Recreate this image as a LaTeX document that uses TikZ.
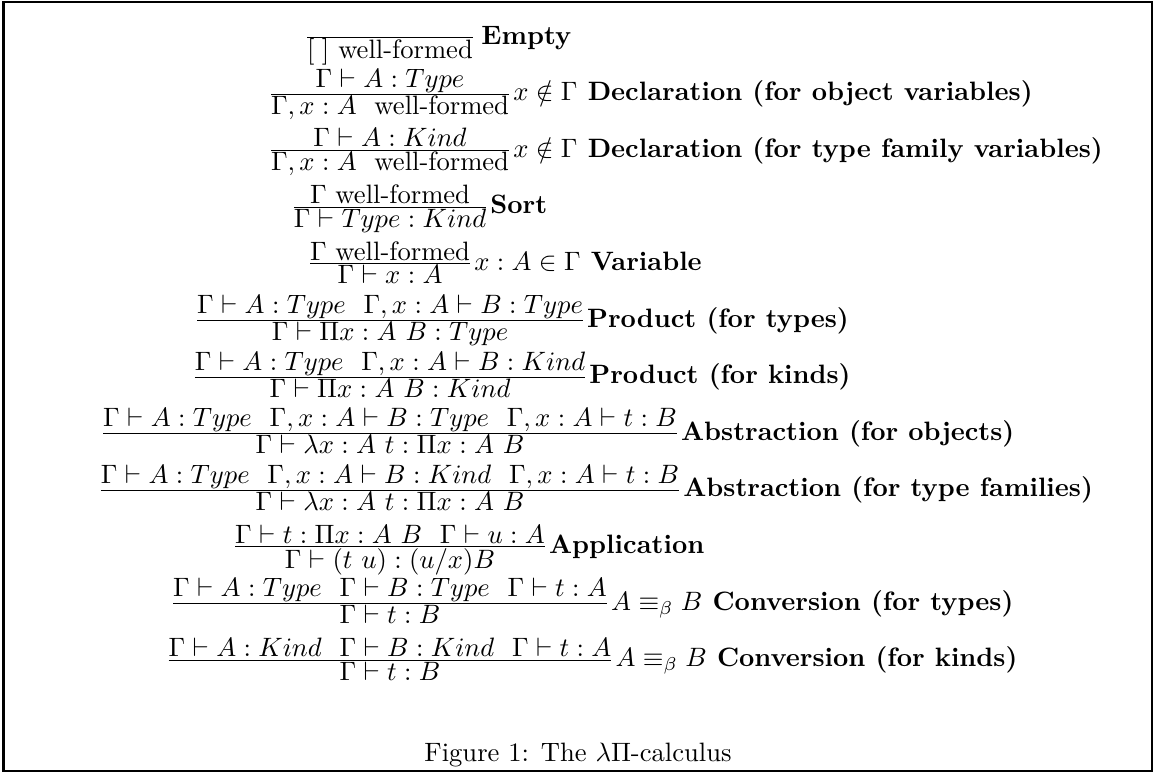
\documentclass[tikz,border=0pt]{standalone}
\usepackage{amsmath}
\usetikzlibrary{positioning}
\newcommand{\infrule}[2]{\frac{\displaystyle #1}{\displaystyle #2}}

\begin{document}
\begin{tikzpicture}[x=0.376pt, y=-0.376pt,
  rulebox/.style={inner sep=0pt, anchor=base},
  rulename/.style={inner sep=0pt, anchor=base west, font=\bfseries}]

  % Fix the picture size
  \useasboundingbox (0,0) rectangle (1156,774);

  % Draw frame
  \draw[line width=1pt] (3.5,2) rectangle (1152,771);

  % Context rules
  \node[rulebox] (empty) at (390,44.1) {$\infrule{}{[\;]\ \mbox{well-formed}}$};
  \node[rulename] (empty-name) at (empty.base east) {\,Empty};

  \node[rulebox] (declobj) at (390,100.7) {$\infrule{\Gamma \vdash A : Type}{\Gamma, x : A\ \ \mbox{well-formed}}$};
  \node[rulename] (declobj-name) at (declobj.base east) {$x \notin \Gamma$ Declaration (for object variables)};

  \node[rulebox] (decltyp) at (390,157.3) {$\infrule{\Gamma \vdash A : Kind}{\Gamma, x : A\ \ \mbox{well-formed}}$};
  \node[rulename] (decltyp-name) at (decltyp.base east) {$x \notin \Gamma$ Declaration (for type family variables)};

  % Sort and variable
  \node[rulebox] (sort) at (390,213.9) {$\infrule{\Gamma\ \mbox{well-formed}}{\Gamma \vdash Type : Kind}$};
  \node[rulename] (sort-name) at (sort.base east) {Sort};

  \node[rulebox] (var) at (390,270.5) {$\infrule{\Gamma\ \mbox{well-formed}}{\Gamma \vdash x : A}$};
  \node[rulename] (var-name) at (var.base east) {$x : A \in \Gamma$ Variable};

  % Products
  \node[rulebox] (prodtyp) at (390,327.1) {$\infrule{\Gamma \vdash A : Type\ \ \Gamma, x : A \vdash B : Type}{\Gamma \vdash \Pi x : A\ B : Type}$};
  \node[rulename] (prodtyp-name) at (prodtyp.base east) {Product (for types)};

  \node[rulebox] (prodknd) at (390,383.7) {$\infrule{\Gamma \vdash A : Type\ \ \Gamma, x : A \vdash B : Kind}{\Gamma \vdash \Pi x : A\ B : Kind}$};
  \node[rulename] (prodknd-name) at (prodknd.base east) {Product (for kinds)};

  % Abstractions
  \node[rulebox] (absobj) at (390,440.3) {$\infrule{\Gamma \vdash A : Type\ \ \Gamma, x : A \vdash B : Type\ \ \Gamma, x : A \vdash t : B}{\Gamma \vdash \lambda x : A\ t : \Pi x : A\ B}$};
  \node[rulename] (absobj-name) at (absobj.base east) {Abstraction (for objects)};

  \node[rulebox] (abstyp) at (390,496.9) {$\infrule{\Gamma \vdash A : Type\ \ \Gamma, x : A \vdash B : Kind\ \ \Gamma, x : A \vdash t : B}{\Gamma \vdash \lambda x : A\ t : \Pi x : A\ B}$};
  \node[rulename] (abstyp-name) at (abstyp.base east) {Abstraction (for type families)};

  % Application
  \node[rulebox] (app) at (390,553.5) {$\infrule{\Gamma \vdash t : \Pi x : A\ B\ \ \Gamma \vdash u : A}{\Gamma \vdash (t\ u) : (u/x)B}$};
  \node[rulename] (app-name) at (app.base east) {Application};

  % Conversions
  \node[rulebox] (convtyp) at (390,610.1) {$\infrule{\Gamma \vdash A : Type\ \ \Gamma \vdash B : Type\ \ \Gamma \vdash t : A}{\Gamma \vdash t : B}$};
  \node[rulename] (convtyp-name) at (convtyp.base east) {$A \equiv_\beta B$ Conversion (for types)};

  \node[rulebox] (convknd) at (390,666.7) {$\infrule{\Gamma \vdash A : Kind\ \ \Gamma \vdash B : Kind\ \ \Gamma \vdash t : A}{\Gamma \vdash t : B}$};
  \node[rulename] (convknd-name) at (convknd.base east) {$A \equiv_\beta B$ Conversion (for kinds)};

  % Caption
  \node[inner sep=0pt, anchor=base] (caption) at (578,761) {Figure 1: The $\lambda\Pi$-calculus};

\end{tikzpicture}
\end{document}
